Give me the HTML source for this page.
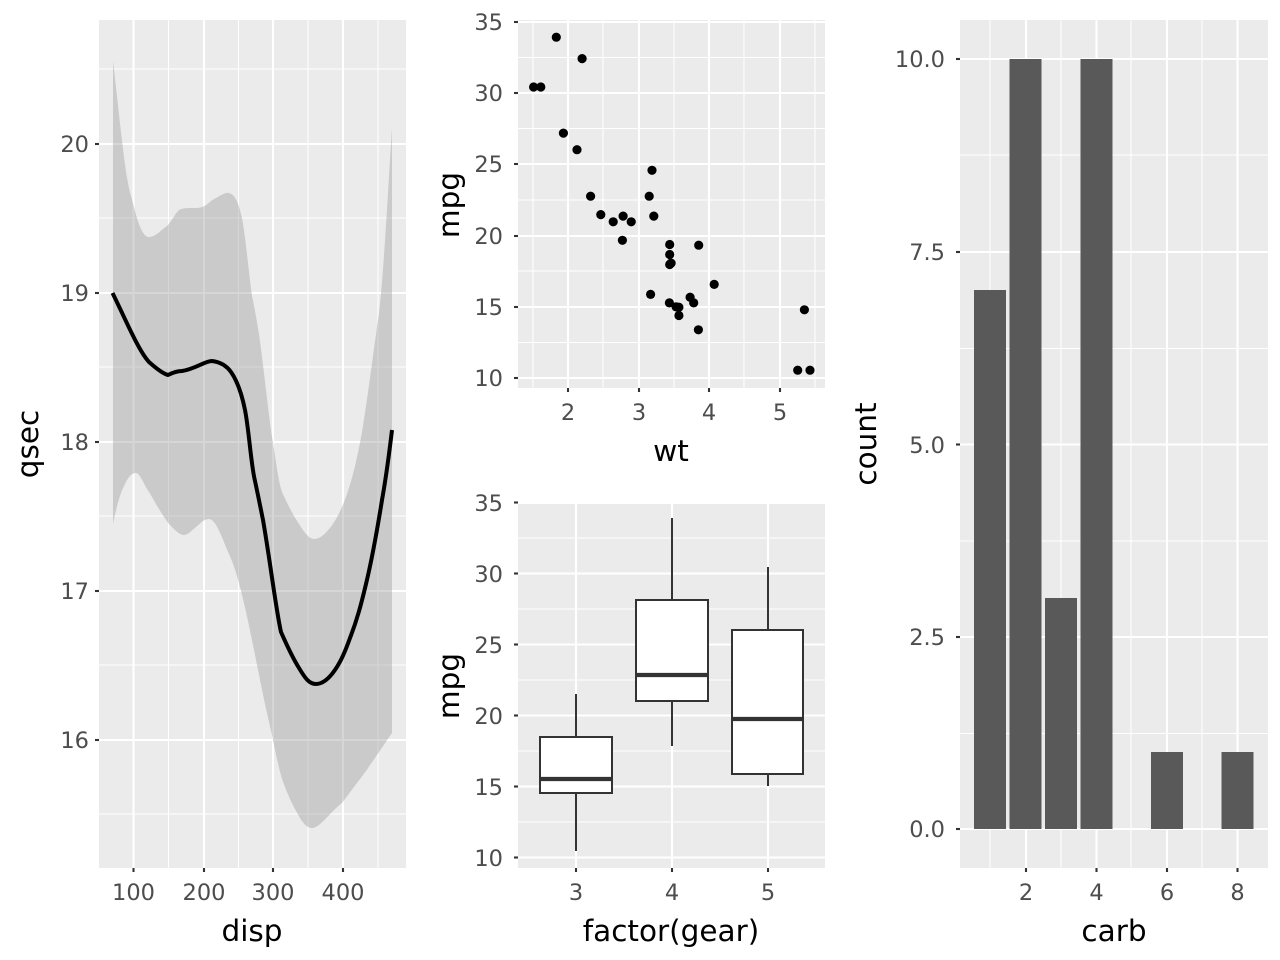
<!DOCTYPE html>
<html><head><meta charset="utf-8"><style>
html,body{margin:0;padding:0;background:#fff}
svg{display:block}
.t{font-family:"DejaVu Sans","Liberation Sans",sans-serif;font-size:22.5px;fill:#4d4d4d}
.a{font-family:"DejaVu Sans","Liberation Sans",sans-serif;font-size:29.5px;fill:#000}
.mj{stroke:#fff;stroke-width:2.1}
.mn{stroke:#fff;stroke-width:1.05}
.tk{stroke:#333;stroke-width:2.1}
</style></head><body>
<svg width="1280" height="960" xmlns="http://www.w3.org/2000/svg">
<!-- Panel 1 -->
<rect x="99" y="20" width="307" height="848" fill="#ebebeb"/>
<g class="mn">
<line x1="99" x2="406" y1="69" y2="69"/><line x1="99" x2="406" y1="218" y2="218"/><line x1="99" x2="406" y1="367" y2="367"/><line x1="99" x2="406" y1="516" y2="516"/><line x1="99" x2="406" y1="665" y2="665"/><line x1="99" x2="406" y1="814" y2="814"/>
<line y1="20" y2="868" x1="168.5" x2="168.5"/><line y1="20" y2="868" x1="238.5" x2="238.5"/><line y1="20" y2="868" x1="308" x2="308"/><line y1="20" y2="868" x1="378" x2="378"/>
</g>
<g class="mj">
<line x1="99" x2="406" y1="144" y2="144"/><line x1="99" x2="406" y1="293" y2="293"/><line x1="99" x2="406" y1="442" y2="442"/><line x1="99" x2="406" y1="591" y2="591"/><line x1="99" x2="406" y1="740" y2="740"/>
<line y1="20" y2="868" x1="133.5" x2="133.5"/><line y1="20" y2="868" x1="204" x2="204"/><line y1="20" y2="868" x1="273" x2="273"/><line y1="20" y2="868" x1="343" x2="343"/>
</g>
<path fill="#999" fill-opacity="0.4" d="M113,61 C120,120 125,180 132,199 C138,225 143,237 149,237 C156,237 162,229 167,226 C173,220 176,211 181,209 C190,207 197,209 202,207 C208,205 210,201 214,199 C220,196 225,192 229,193 C236,195 239,205 242,218 C246,240 249,275 252,296 C255,310 257,322 259,334 C264,370 268,410 272,437 C276,460 278,480 282,492 C288,505 293,515 299,524 C304,532 309,539 314,539 C320,539 325,534 329,529 C336,521 341,510 346,497 C352,480 357,460 362,432 C368,395 373,355 379,313 C384,270 388,190 392,128 L392,733 L366,771 L342,803 C330,812 320,828 312,828 C305,828 300,818 296,811 C290,800 286,790 282,779 C278,765 275,750 272,735 C266,710 261,685 256,660 C251,635 247,615 242,595 C238,578 234,565 229,554 C222,538 216,519 209,519 C203,519 199,525 196,527 C192,530 188,535 184,535 C179,535 174,529 169,524 C162,515 155,502 149,492 C144,485 140,473 136,473 C130,473 127,480 124,486 C119,496 116,510 113,524 Z"/>
<path fill="none" stroke="#000" stroke-width="4" stroke-linejoin="round" d="M112.5,293 C125,318 138,350 149,362 C158,370 164,374 168,375 C174,372 178,371 182,371 C195,369 205,361 212,361 C220,362 226,365 231,372 C238,382 242,395 245,410 C249,430 251,465 255,481 C258,495 260,505 263,520 C270,560 276,610 281,632 C288,648 294,660 299,668 C305,678 309,684 316,684 C322,684 327,680 332,674 C340,664 345,652 350,638 C357,620 361,605 366,584 C373,555 378,525 382,500 C386,478 389,455 392,430"/>
<g class="tk">
<line x1="95" x2="99" y1="144" y2="144"/><line x1="95" x2="99" y1="293" y2="293"/><line x1="95" x2="99" y1="442" y2="442"/><line x1="95" x2="99" y1="591" y2="591"/><line x1="95" x2="99" y1="740" y2="740"/>
<line y1="868" y2="872" x1="133.5" x2="133.5"/><line y1="868" y2="872" x1="204" x2="204"/><line y1="868" y2="872" x1="273" x2="273"/><line y1="868" y2="872" x1="343" x2="343"/>
</g>
<g class="t" text-anchor="end">
<text x="89" y="152">20</text><text x="89" y="301">19</text><text x="89" y="450">18</text><text x="89" y="599">17</text><text x="89" y="748">16</text>
</g>
<g class="t" text-anchor="middle">
<text x="133.5" y="900">100</text><text x="204" y="900">200</text><text x="273" y="900">300</text><text x="343" y="900">400</text>
</g>
<text class="a" text-anchor="middle" x="252" y="941">disp</text>
<text class="a" text-anchor="middle" transform="translate(38,444) rotate(-90)">qsec</text>

<!-- Panel 2 scatter -->
<rect x="518" y="20" width="307" height="368" fill="#ebebeb"/>
<g class="mn">
<line x1="518" x2="825" y1="57.5" y2="57.5"/><line x1="518" x2="825" y1="128.5" y2="128.5"/><line x1="518" x2="825" y1="200" y2="200"/><line x1="518" x2="825" y1="271" y2="271"/><line x1="518" x2="825" y1="342.5" y2="342.5"/>
<line y1="20" y2="388" x1="533" x2="533"/><line y1="20" y2="388" x1="603" x2="603"/><line y1="20" y2="388" x1="674" x2="674"/><line y1="20" y2="388" x1="744" x2="744"/><line y1="20" y2="388" x1="815" x2="815"/>
</g>
<g class="mj">
<line x1="518" x2="825" y1="22" y2="22"/><line x1="518" x2="825" y1="93" y2="93"/><line x1="518" x2="825" y1="164" y2="164"/><line x1="518" x2="825" y1="236" y2="236"/><line x1="518" x2="825" y1="307" y2="307"/><line x1="518" x2="825" y1="378" y2="378"/>
<line y1="20" y2="388" x1="568" x2="568"/><line y1="20" y2="388" x1="639" x2="639"/><line y1="20" y2="388" x1="709" x2="709"/><line y1="20" y2="388" x1="780" x2="780"/>
</g>
<g fill="#000">
<circle cx="613.2" cy="221.8" r="4.6"/><circle cx="631.2" cy="221.8" r="4.6"/><circle cx="590.6" cy="196.2" r="4.6"/><circle cx="653.8" cy="216.1" r="4.6"/><circle cx="669.7" cy="254.5" r="4.6"/><circle cx="671.1" cy="263.1" r="4.6"/><circle cx="678.9" cy="315.5" r="4.6"/><circle cx="652.0" cy="170.3" r="4.6"/><circle cx="649.2" cy="196.2" r="4.6"/><circle cx="669.7" cy="244.5" r="4.6"/><circle cx="669.7" cy="264.5" r="4.6"/><circle cx="714.2" cy="284.4" r="4.6"/><circle cx="690.1" cy="297.2" r="4.6"/><circle cx="693.7" cy="302.9" r="4.6"/><circle cx="797.7" cy="370.2" r="4.6"/><circle cx="810.0" cy="370.2" r="4.6"/><circle cx="804.4" cy="309.8" r="4.6"/><circle cx="582.1" cy="58.6" r="4.6"/><circle cx="540.8" cy="87.0" r="4.6"/><circle cx="556.3" cy="37.2" r="4.6"/><circle cx="563.4" cy="133.1" r="4.6"/><circle cx="600.8" cy="214.6" r="4.6"/><circle cx="676.1" cy="306.9" r="4.6"/><circle cx="669.4" cy="302.9" r="4.6"/><circle cx="698.4" cy="329.8" r="4.6"/><circle cx="698.7" cy="245.2" r="4.6"/><circle cx="577.0" cy="149.7" r="4.6"/><circle cx="533.6" cy="87.0" r="4.6"/><circle cx="650.6" cy="294.4" r="4.6"/><circle cx="622.4" cy="240.3" r="4.6"/><circle cx="678.9" cy="307.2" r="4.6"/><circle cx="623.1" cy="216.1" r="4.6"/>
</g>
<g class="tk">
<line x1="514" x2="518" y1="22" y2="22"/><line x1="514" x2="518" y1="93" y2="93"/><line x1="514" x2="518" y1="164" y2="164"/><line x1="514" x2="518" y1="236" y2="236"/><line x1="514" x2="518" y1="307" y2="307"/><line x1="514" x2="518" y1="378" y2="378"/>
<line y1="388" y2="392" x1="568" x2="568"/><line y1="388" y2="392" x1="639" x2="639"/><line y1="388" y2="392" x1="709" x2="709"/><line y1="388" y2="392" x1="780" x2="780"/>
</g>
<g class="t" text-anchor="end">
<text x="503" y="30">35</text><text x="503" y="101">30</text><text x="503" y="172">25</text><text x="503" y="244">20</text><text x="503" y="315">15</text><text x="503" y="386">10</text>
</g>
<g class="t" text-anchor="middle">
<text x="568" y="420">2</text><text x="639" y="420">3</text><text x="709" y="420">4</text><text x="780" y="420">5</text>
</g>
<text class="a" text-anchor="middle" x="671" y="461">wt</text>
<text class="a" text-anchor="middle" transform="translate(459,205) rotate(-90)">mpg</text>

<!-- Panel 3 box -->
<rect x="518" y="504" width="307" height="364" fill="#ebebeb"/>
<g class="mn">
<line x1="518" x2="825" y1="538" y2="538"/><line x1="518" x2="825" y1="609" y2="609"/><line x1="518" x2="825" y1="680" y2="680"/><line x1="518" x2="825" y1="751" y2="751"/><line x1="518" x2="825" y1="822" y2="822"/>
</g>
<g class="mj">
<line x1="518" x2="825" y1="502.5" y2="502.5"/><line x1="518" x2="825" y1="573.5" y2="573.5"/><line x1="518" x2="825" y1="644.5" y2="644.5"/><line x1="518" x2="825" y1="715.5" y2="715.5"/><line x1="518" x2="825" y1="786.5" y2="786.5"/><line x1="518" x2="825" y1="857.5" y2="857.5"/>
<line y1="504" y2="868" x1="576" x2="576"/><line y1="504" y2="868" x1="672" x2="672"/><line y1="504" y2="868" x1="768" x2="768"/>
</g>
<g stroke="#333" stroke-width="2" fill="#fff">
<line x1="576" x2="576" y1="694" y2="736"/><line x1="576" x2="576" y1="793" y2="851"/>
<rect x="540" y="737" width="72" height="56"/>
<line x1="672" x2="672" y1="518" y2="600"/><line x1="672" x2="672" y1="701" y2="746"/>
<rect x="636" y="600" width="72" height="101"/>
<line x1="768" x2="768" y1="567" y2="630"/><line x1="768" x2="768" y1="774" y2="786"/>
<rect x="732" y="630" width="71" height="144"/>
</g>
<g stroke="#333" stroke-width="4.2">
<line x1="540" x2="612" y1="779" y2="779"/><line x1="636" x2="708" y1="675" y2="675"/><line x1="732" x2="803" y1="719" y2="719"/>
</g>
<g class="tk">
<line x1="514" x2="518" y1="502.5" y2="502.5"/><line x1="514" x2="518" y1="573.5" y2="573.5"/><line x1="514" x2="518" y1="644.5" y2="644.5"/><line x1="514" x2="518" y1="715.5" y2="715.5"/><line x1="514" x2="518" y1="786.5" y2="786.5"/><line x1="514" x2="518" y1="857.5" y2="857.5"/>
<line y1="868" y2="872" x1="576" x2="576"/><line y1="868" y2="872" x1="672" x2="672"/><line y1="868" y2="872" x1="768" x2="768"/>
</g>
<g class="t" text-anchor="end">
<text x="503" y="511">35</text><text x="503" y="582">30</text><text x="503" y="653">25</text><text x="503" y="724">20</text><text x="503" y="795">15</text><text x="503" y="866">10</text>
</g>
<g class="t" text-anchor="middle">
<text x="576" y="900">3</text><text x="672" y="900">4</text><text x="768" y="900">5</text>
</g>
<text class="a" text-anchor="middle" x="671" y="941">factor(gear)</text>
<text class="a" text-anchor="middle" transform="translate(459,686) rotate(-90)">mpg</text>

<!-- Panel 4 bar -->
<rect x="960" y="20" width="308" height="848" fill="#ebebeb"/>
<g class="mn">
<line x1="960" x2="1268" y1="155" y2="155"/><line x1="960" x2="1268" y1="348.5" y2="348.5"/><line x1="960" x2="1268" y1="541" y2="541"/><line x1="960" x2="1268" y1="733.5" y2="733.5"/>
<line y1="20" y2="868" x1="990" x2="990"/><line y1="20" y2="868" x1="1061" x2="1061"/><line y1="20" y2="868" x1="1131" x2="1131"/><line y1="20" y2="868" x1="1202" x2="1202"/>
</g>
<g class="mj">
<line x1="960" x2="1268" y1="59" y2="59"/><line x1="960" x2="1268" y1="252" y2="252"/><line x1="960" x2="1268" y1="444.5" y2="444.5"/><line x1="960" x2="1268" y1="637" y2="637"/><line x1="960" x2="1268" y1="829" y2="829"/>
<line y1="20" y2="868" x1="1026" x2="1026"/><line y1="20" y2="868" x1="1096.5" x2="1096.5"/><line y1="20" y2="868" x1="1167" x2="1167"/><line y1="20" y2="868" x1="1237.5" x2="1237.5"/>
</g>
<g fill="#595959">
<rect x="974" y="290" width="32" height="539"/>
<rect x="1009.5" y="59" width="32" height="770"/>
<rect x="1045" y="598" width="32" height="231"/>
<rect x="1080.5" y="59" width="32" height="770"/>
<rect x="1151" y="752" width="32" height="77"/>
<rect x="1221.5" y="752" width="32" height="77"/>
</g>
<g class="tk">
<line x1="956" x2="960" y1="59" y2="59"/><line x1="956" x2="960" y1="252" y2="252"/><line x1="956" x2="960" y1="444.5" y2="444.5"/><line x1="956" x2="960" y1="637" y2="637"/><line x1="956" x2="960" y1="829" y2="829"/>
<line y1="868" y2="872" x1="1026" x2="1026"/><line y1="868" y2="872" x1="1096.5" x2="1096.5"/><line y1="868" y2="872" x1="1167" x2="1167"/><line y1="868" y2="872" x1="1237.5" x2="1237.5"/>
</g>
<g class="t" text-anchor="end">
<text x="945" y="67">10.0</text><text x="945" y="260">7.5</text><text x="945" y="453">5.0</text><text x="945" y="645">2.5</text><text x="945" y="837">0.0</text>
</g>
<g class="t" text-anchor="middle">
<text x="1026" y="900">2</text><text x="1096.5" y="900">4</text><text x="1167" y="900">6</text><text x="1237.5" y="900">8</text>
</g>
<text class="a" text-anchor="middle" x="1114" y="941">carb</text>
<text class="a" text-anchor="middle" transform="translate(876,444) rotate(-90)">count</text>
</svg>
</body></html>
